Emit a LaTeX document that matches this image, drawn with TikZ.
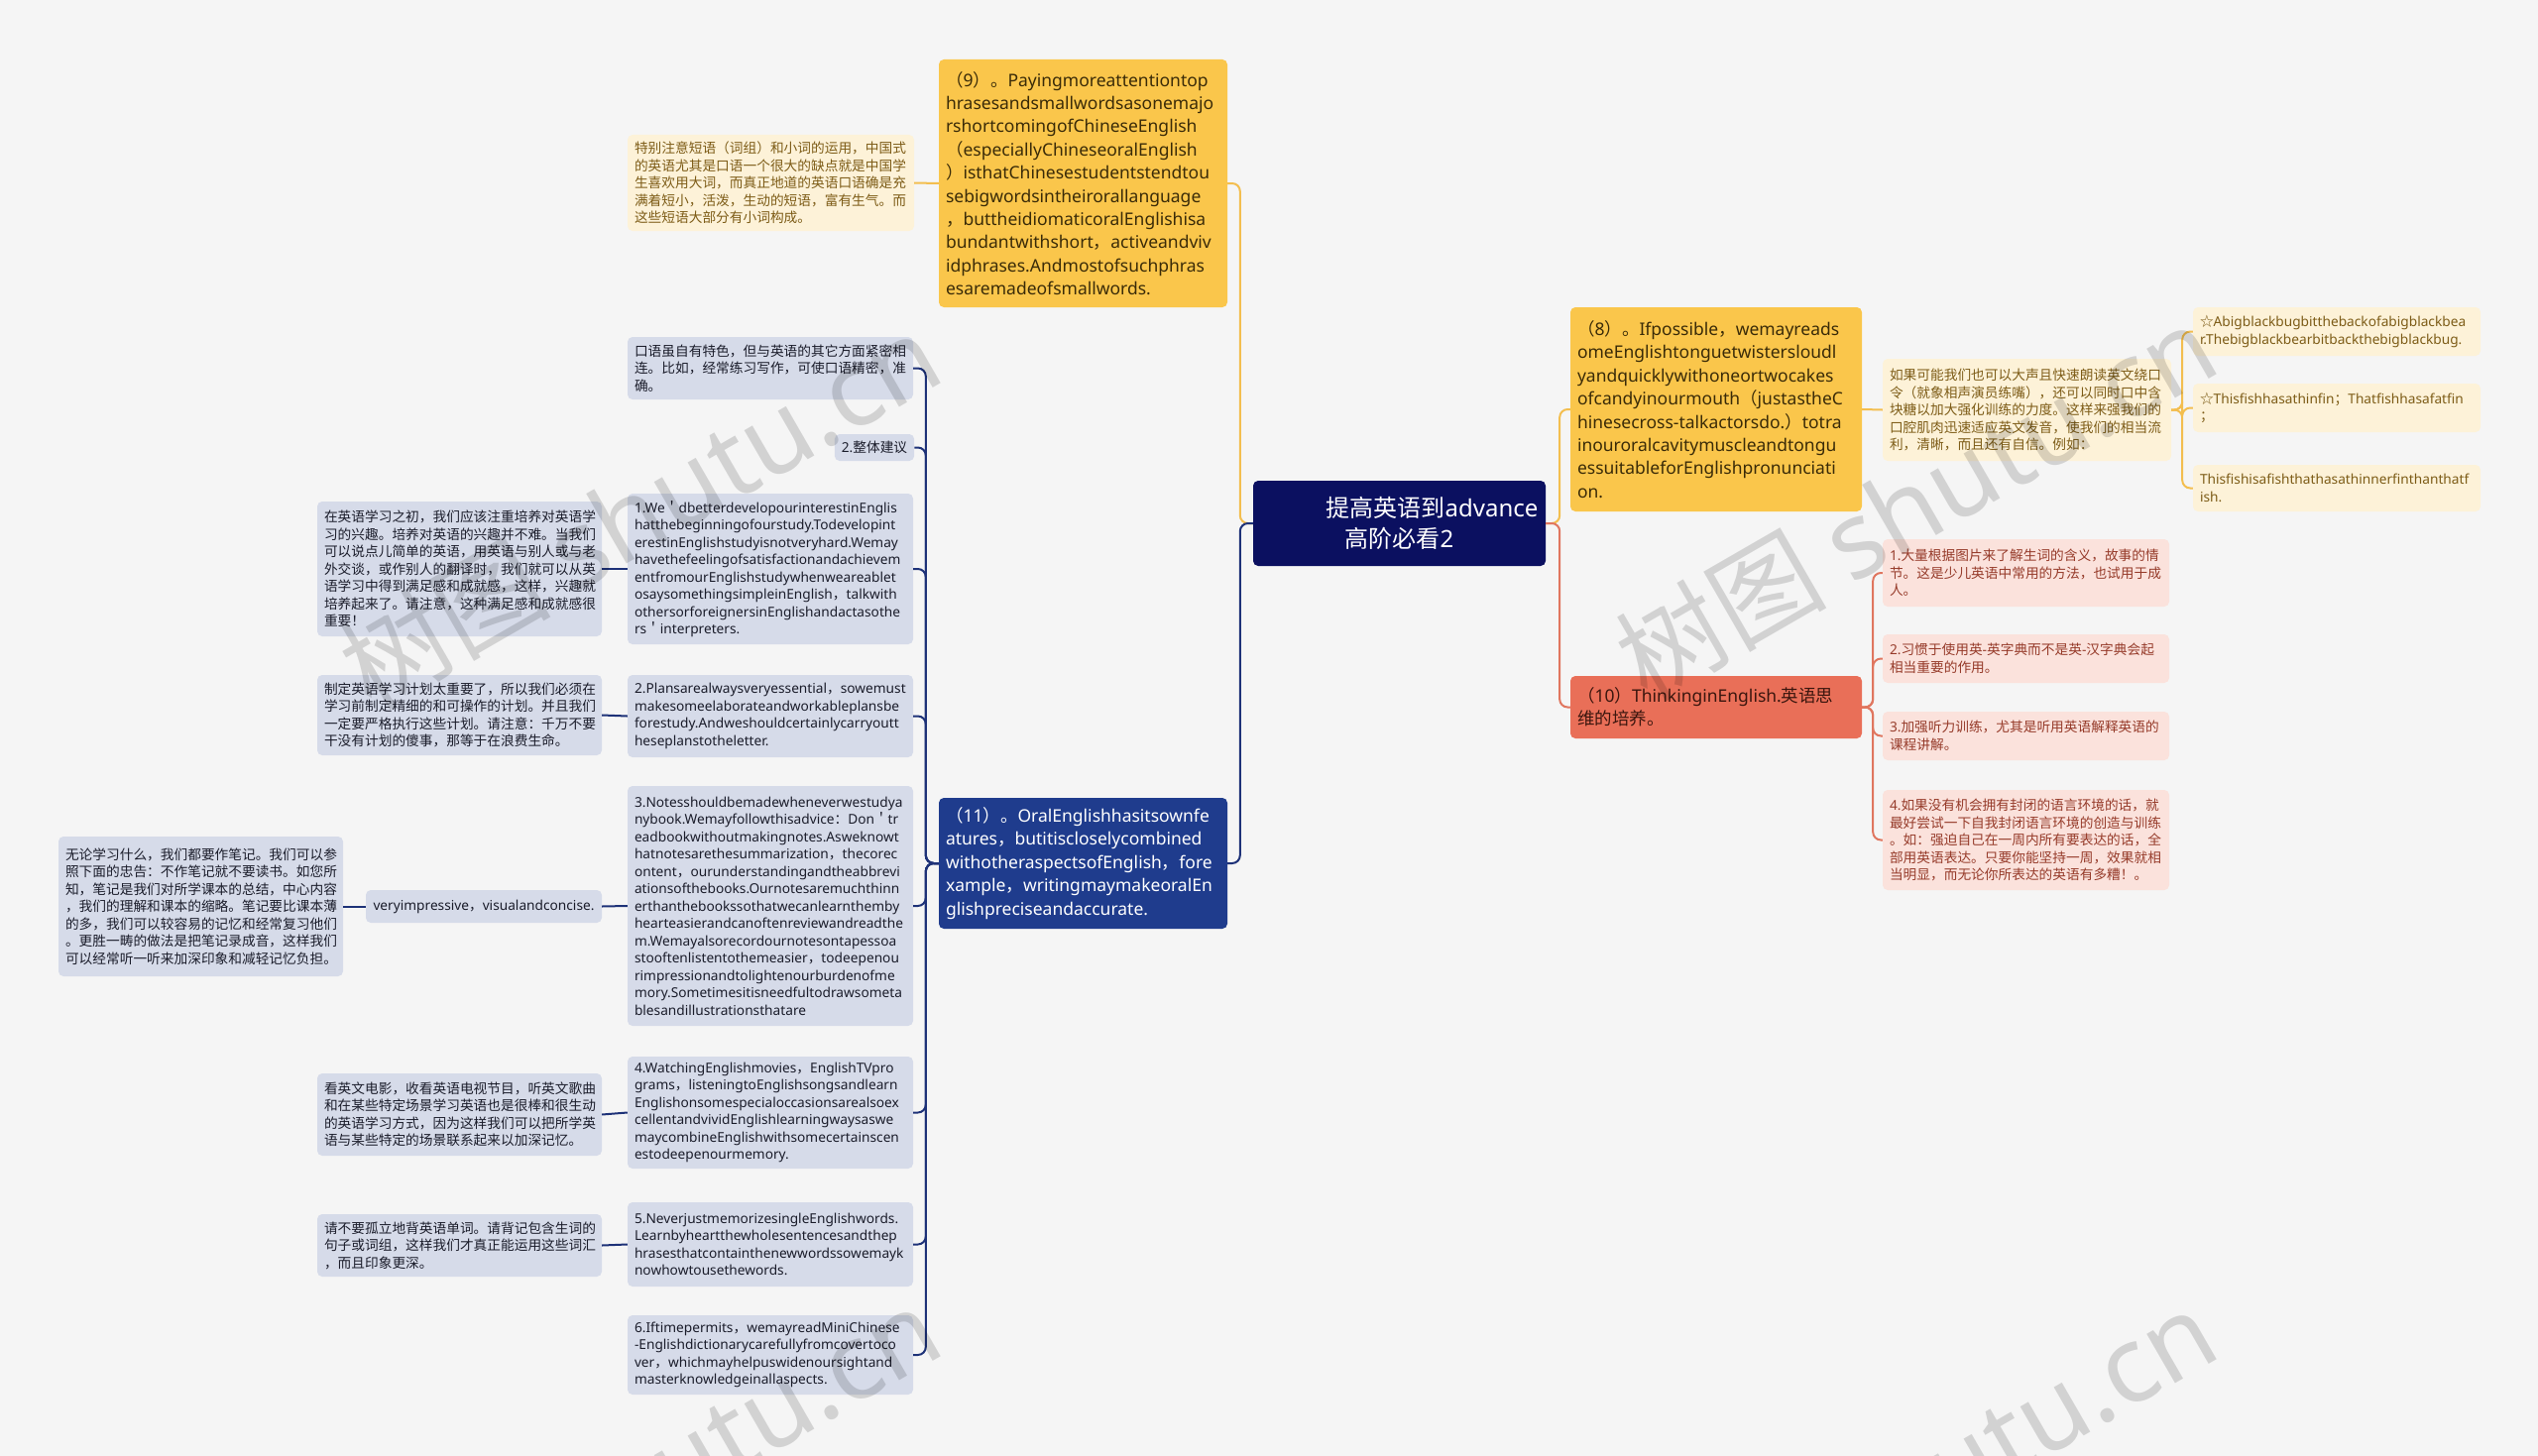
\documentclass[tikz,border=0pt]{standalone}
\usepackage{fontspec}
\setmainfont{Noto Sans}
\newfontfamily\cjkf{Noto Sans CJK SC}
\newcount\cjkcnt
\def\setcjkrange#1#2{\cjkcnt=#1\relax\loop\XeTeXcharclass\cjkcnt=1\relax\ifnum\cjkcnt<#2\advance\cjkcnt by 1\repeat}
\setcjkrange{"3000}{"303F}
\setcjkrange{"4E00}{"9FFF}
\setcjkrange{"FF00}{"FFEF}
\XeTeXcharclass"2606=1
\XeTeXinterchartokenstate=1
\XeTeXinterchartoks 0 1 {\cjkf}
\XeTeXinterchartoks 4095 1 {\cjkf}
\XeTeXinterchartoks 1 0 {\rmfamily}
\XeTeXinterchartoks 4095 0 {\rmfamily}
\hyphenpenalty=10000
\exhyphenpenalty=10000
\newcommand\bigf{\fontsize{17.5}{23.4}\selectfont}
\newcommand\smf{\fontsize{13.7}{17.5}\selectfont}
\newcommand\rootf{\fontsize{24}{31}\selectfont}
\newcommand\wmf{\fontsize{107}{110}\selectfont}
\definecolor{bgc}{HTML}{F5F5F5}
\definecolor{rootc}{HTML}{0B1060}
\definecolor{yel}{HTML}{FAC64B}
\definecolor{yeltext}{HTML}{3A2B08}
\definecolor{cream}{HTML}{FDF2D8}
\definecolor{creamtext}{HTML}{7D5C17}
\definecolor{yline}{HTML}{F3BE4F}
\definecolor{sal}{HTML}{E96F58}
\definecolor{saltext}{HTML}{3B160E}
\definecolor{pink}{HTML}{FBE2DC}
\definecolor{pinktext}{HTML}{963B2A}
\definecolor{sline}{HTML}{E0765F}
\definecolor{navy}{HTML}{1F3C8D}
\definecolor{bluegray}{HTML}{D6DBE9}
\definecolor{bgtext}{HTML}{1B1D2B}
\definecolor{nline}{HTML}{1E3278}
\usetikzlibrary{calc}
\tikzset{
  bx/.style={rounded corners=5pt, align=left, inner xsep=7pt, inner ysep=2pt},
  big/.style={bx, font=\bigf},
  sm/.style={bx, font=\smf},
  rootbox/.style={bx, font=\rootf, fill=rootc, text=white, align=center},
  yelbox/.style={big, fill=yel, text=yeltext},
  creambox/.style={sm, fill=cream, text=creamtext},
  salbox/.style={big, fill=sal, text=saltext},
  pinkbox/.style={sm, fill=pink, text=pinktext},
  navybox/.style={big, fill=navy, text=white},
  bgbox/.style={sm, fill=bluegray, text=bgtext},
  yl/.style={draw=yline, line width=2pt, rounded corners=8pt},
  sl/.style={draw=sline, line width=2pt, rounded corners=8pt},
  nl/.style={draw=nline, line width=2pt, rounded corners=8pt},
  wm/.style={font=\wmf, text=black, text opacity=0.14, rotate=30}
}
\begin{document}
\begin{tikzpicture}[x=1pt,y=-1pt]
\useasboundingbox (0,0) rectangle (2560,1469);
\fill[bgc] (0,0) rectangle (2560,1469);

% root
\node[rootbox, minimum width=295pt, minimum height=86pt] (root) at (1411.5,528) {\hspace*{66pt}提高英语到advance\\高阶必看2};

% yellow branch (9)
\node[yelbox, minimum width=291pt, minimum height=250pt, text width=277pt] (n9) at (1092.5,185) {（9）。Payingmoreattentiontop\\hrasesandsmallwordsasonemajo\\rshortcomingofChineseEnglish\\（especiallyChineseoralEnglish\\）isthatChinesestudentstendtou\\sebigwordsintheirorallanguage\\，buttheidiomaticoralEnglishisa\\bundantwithshort，activeandviv\\idphrases.Andmostofsuchphras\\esaremadeofsmallwords.};
\node[creambox, minimum width=289pt, minimum height=97pt, text width=275pt] (n9a) at (777.5,184.5) {特别注意短语（词组）和小词的运用，中国式\\的英语尤其是口语一个很大的缺点就是中国学\\生喜欢用大词，而真正地道的英语口语确是充\\满着短小，活泼，生动的短语，富有生气。而\\这些短语大部分有小词构成。};

% yellow branch (8)
\node[yelbox, minimum width=294pt, minimum height=206pt, text width=280pt] (n8) at (1731,413) {（8）。Ifpossible，wemayreads\\omeEnglishtonguetwistersloudl\\yandquicklywithoneortwocakes\\ofcandyinourmouth（justastheC\\hinesecross-talkactorsdo.）totra\\inouroralcavitymuscleandtongu\\essuitableforEnglishpronunciati\\on.};
\node[creambox, minimum width=291pt, minimum height=103pt, text width=277pt] (n8a) at (2044.5,413.5) {如果可能我们也可以大声且快速朗读英文绕口\\令（就象相声演员练嘴），还可以同时口中含\\块糖以加大强化训练的力度。这样来强我们的\\口腔肌肉迅速适应英文发音，使我们的相当流\\利，清晰，而且还有自信。例如：};
\node[creambox, minimum width=290pt, minimum height=49pt, text width=276pt] (fa) at (2357,334.5) {☆Abigblackbugbitthebackofabigblackbea\\r.Thebigblackbearbitbackthebigblackbug.};
\node[creambox, minimum width=290pt, minimum height=49pt, text width=276pt] (fb) at (2357,411.5) {☆Thisfishhasathinfin；Thatfishhasafatfin\\；};
\node[creambox, minimum width=290pt, minimum height=47pt, text width=276pt] (fc) at (2357,492.5) {Thisfishisafishthathasathinnerfinthanthatf\\ish.};

% red branch (10)
\node[salbox, minimum width=294pt, minimum height=63pt, text width=280pt] (n10) at (1731,713.5) {（10）ThinkinginEnglish.英语思\\维的培养。};
\node[pinkbox, minimum width=289pt, minimum height=68pt, text width=275pt] (p1) at (2043.5,578) {1.大量根据图片来了解生词的含义，故事的情\\节。这是少儿英语中常用的方法，也试用于成\\人。};
\node[pinkbox, minimum width=289pt, minimum height=49pt, text width=275pt] (p2) at (2043.5,664.5) {2.习惯于使用英-英字典而不是英-汉字典会起\\相当重要的作用。};
\node[pinkbox, minimum width=289pt, minimum height=49pt, text width=275pt] (p3) at (2043.5,742.5) {3.加强听力训练，尤其是听用英语解释英语的\\课程讲解。};
\node[pinkbox, minimum width=289pt, minimum height=101pt, text width=275pt] (p4) at (2043.5,847.5) {4.如果没有机会拥有封闭的语言环境的话，就\\最好尝试一下自我封闭语言环境的创造与训练\\。如：强迫自己在一周内所有要表达的话，全\\部用英语表达。只要你能坚持一周，效果就相\\当明显，而无论你所表达的英语有多糟！。};

% navy branch (11)
\node[navybox, minimum width=291pt, minimum height=132pt, text width=277pt] (n11) at (1092.5,871) {（11）。OralEnglishhasitsownfe\\atures，butitiscloselycombined\\withotheraspectsofEnglish，fore\\xample，writingmaymakeoralEn\\glishpreciseandaccurate.};

\node[bgbox, minimum width=288pt, minimum height=63pt, text width=274pt] (c1) at (777,371.5) {口语虽自有特色，但与英语的其它方面紧密相\\连。比如，经常练习写作，可使口语精密，准\\确。};
\node[bgbox, minimum width=78pt, minimum height=27pt, align=center] (c2) at (882,451.5) {2.整体建议};
\node[bgbox, minimum width=288pt, minimum height=152pt, text width=274pt] (c3) at (777,574) {1.We＇dbetterdevelopourinterestinEnglis\\hatthebeginningofourstudy.Todevelopint\\erestinEnglishstudyisnotveryhard.Wemay\\havethefeelingofsatisfactionandachievem\\entfromourEnglishstudywhenweareablet\\osaysomethingsimpleinEnglish，talkwith\\othersorforeignersinEnglishandactasothe\\rs＇interpreters.};
\node[bgbox, minimum width=288pt, minimum height=83pt, text width=274pt] (c4) at (777,722.5) {2.Plansarealwaysveryessential，sowemust\\makesomeelaborateandworkableplansbe\\forestudy.Andweshouldcertainlycarryoutt\\heseplanstotheletter.};
\node[bgbox, minimum width=288pt, minimum height=242pt, text width=274pt] (c5) at (777,914) {3.Notesshouldbemadewheneverwestudya\\nybook.Wemayfollowthisadvice：Don＇tr\\eadbookwithoutmakingnotes.Asweknowt\\hatnotesarethesummarization，thecorec\\ontent，ourunderstandingandtheabbrevi\\ationsofthebooks.Ournotesaremuchthinn\\erthanthebookssothatwecanlearnthemby\\hearteasierandcanoftenreviewandreadthe\\m.Wemayalsorecordournotesontapessoa\\stooftenlistentothemeasier，todeepenou\\rimpressionandtolightenourburdenofme\\mory.Sometimesitisneedfultodrawsometa\\blesandillustrationsthatare};
\node[bgbox, minimum width=288pt, minimum height=113pt, text width=274pt] (c6) at (777,1122.5) {4.WatchingEnglishmovies，EnglishTVpro\\grams，listeningtoEnglishsongsandlearn\\Englishonsomespecialoccasionsarealsoex\\cellentandvividEnglishlearningwaysaswe\\maycombineEnglishwithsomecertainscen\\estodeepenourmemory.};
\node[bgbox, minimum width=288pt, minimum height=85pt, text width=274pt] (c7) at (777,1255.5) {5.NeverjustmemorizesingleEnglishwords.\\Learnbyheartthewholesentencesandthep\\hrasesthatcontainthenewwordssowemayk\\nowhowtousethewords.};
\node[bgbox, minimum width=288pt, minimum height=80pt, text width=274pt] (c8) at (777,1367) {6.Iftimepermits，wemayreadMiniChinese\\-Englishdictionarycarefullyfromcovertoco\\ver，whichmayhelpuswidenoursightand\\masterknowledgeinallaspects.};

\node[bgbox, minimum width=287pt, minimum height=136pt, text width=273pt] (g3) at (463.5,574) {在英语学习之初，我们应该注重培养对英语学\\习的兴趣。培养对英语的兴趣并不难。当我们\\可以说点儿简单的英语，用英语与别人或与老\\外交谈，或作别人的翻译时，我们就可以从英\\语学习中得到满足感和成就感，这样，兴趣就\\培养起来了。请注意，这种满足感和成就感很\\重要！};
\node[bgbox, minimum width=287pt, minimum height=81pt, text width=273pt] (g4) at (463.5,721.5) {制定英语学习计划太重要了，所以我们必须在\\学习前制定精细的和可操作的计划。并且我们\\一定要严格执行这些计划。请注意：千万不要\\干没有计划的傻事，那等于在浪费生命。};
\node[bgbox, minimum width=238pt, minimum height=33pt, align=center] (g5) at (488,914.5) {veryimpressive，visualandconcise.};
\node[bgbox, minimum width=287pt, minimum height=141pt, text width=273pt] (g5c) at (202.5,914.5) {无论学习什么，我们都要作笔记。我们可以参\\照下面的忠告：不作笔记就不要读书。如您所\\知，笔记是我们对所学课本的总结，中心内容\\，我们的理解和课本的缩略。笔记要比课本薄\\的多，我们可以较容易的记忆和经常复习他们\\。更胜一畴的做法是把笔记录成音，这样我们\\可以经常听一听来加深印象和减轻记忆负担。};
\node[bgbox, minimum width=287pt, minimum height=83pt, text width=273pt] (g6) at (463.5,1124.5) {看英文电影，收看英语电视节目，听英文歌曲\\和在某些特定场景学习英语也是很棒和很生动\\的英语学习方式，因为这样我们可以把所学英\\语与某些特定的场景联系起来以加深记忆。};
\node[bgbox, minimum width=287pt, minimum height=63pt, text width=273pt] (g7) at (463.5,1256.5) {请不要孤立地背英语单词。请背记包含生词的\\句子或词组，这样我们才真正能运用这些词汇\\，而且印象更深。};

% connectors
\draw[yl] (root.west) -- ++(-13,0) |- (n9.east);
\draw[nl] (root.west) -- ++(-13,0) |- (n11.east);
\draw[yl] (root.east) -- ++(14,0) |- (n8.west);
\draw[sl] (root.east) -- ++(14,0) |- (n10.west);
\draw[yl] (n9.west) -- (n9a.east);
\draw[yl] (n8.east) -- (n8a.west);
\foreach \t in {fa,fb,fc} \draw[yl] (n8a.east) -- ++(11,0) |- (\t.west);
\foreach \t in {p1,p2,p3,p4} \draw[sl] (n10.east) -- ++(11,0) |- (\t.west);
\foreach \t in {c1,c2,c3,c4,c5,c6,c7,c8} \draw[nl] (n11.west) -- ++(-13,0) |- (\t.east);
\draw[nl] (c3.west) -- (g3.east);
\draw[nl] (c4.west) -- (g4.east);
\draw[nl] (c5.west) -- (g5.east);
\draw[nl] (g5.west) -- (g5c.east);
\draw[nl] (c6.west) -- (g6.east);
\draw[nl] (c7.west) -- (g7.east);

% watermarks
\node[wm] (w1) at (645,515) {树图 shutu.cn};
\node[wm] (w2) at (1932,506) {树图 shutu.cn};
\node[wm] (w3) at (645,1497) {树图 shutu.cn};
\node[wm] (w4) at (1932,1500) {树图 shutu.cn};
\end{tikzpicture}
\end{document}
